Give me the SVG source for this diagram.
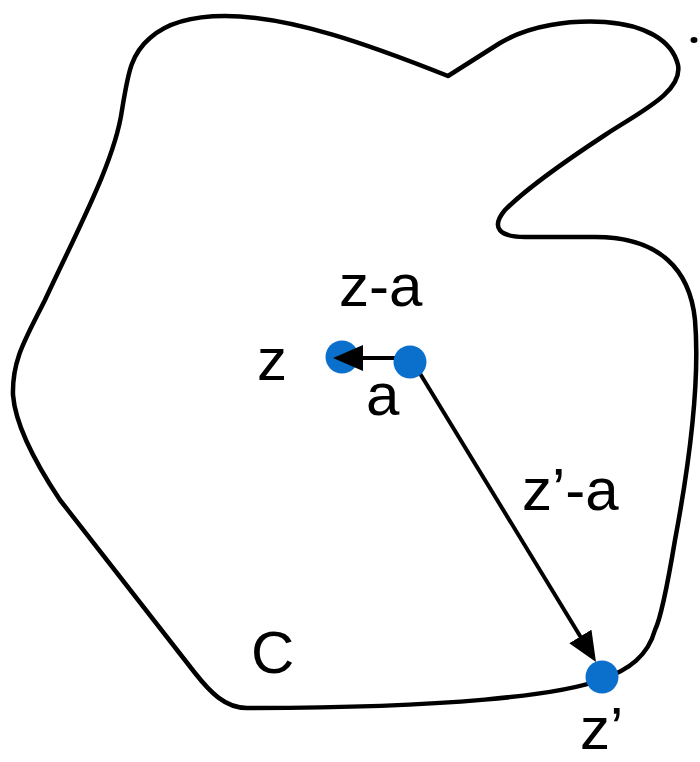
<svg xmlns="http://www.w3.org/2000/svg" width="700" height="762" viewBox="0 0 700 762">
  <style>
    .curve { fill: none; stroke: #000; stroke-width: 4.5; stroke-linejoin: round; }
    .conn { fill: none; stroke: #000; stroke-width: 4; }
    .pt { fill: #0b6fcc; }
    .lbl { font-family: "Liberation Sans", Arial, sans-serif; font-size: 60px; fill: #000; }
  </style>
  <defs>
    <marker id="head" viewBox="0 0 30 26" refX="22" refY="13" markerWidth="30" markerHeight="26" markerUnits="userSpaceOnUse" orient="auto">
      <path d="M0,0 L30,13 L0,26 z" fill="#000"/>
    </marker>
  </defs>

  <!-- closed contour C -->
  <g id="contour">
    <path class="curve" d="M 448 76 L 500 43 C 530 25 570 20 605 22 C 645 25 672 40 678 65 C 683 92 640 112 605 135 C 570 158 530 185 505 210 C 490 228 500 237 525 237 L 595 237 C 660 237 690 270 695 320 C 700 380 690 460 675 540 C 665 600 660 620 655 630 C 648 655 630 670 600 680 C 560 695 450 708 247 708 C 225 708 210 692 195 673 L 60 500 C 30 455 15 420 13 395 C 12 360 25 340 45 300 C 80 225 115 160 122 110 C 128 75 130 55 150 38 C 170 20 200 16 225 16 C 290 16 370 45 448 76 Z"/>
    <ellipse cx="694" cy="40" rx="3.5" ry="3" fill="#000"/>
    <text class="lbl" x="251" y="673">C</text>
  </g>

  <!-- point z -->
  <g id="node-z">
    <circle class="pt" cx="342" cy="357" r="16.5"/>
    <text class="lbl" x="257" y="380">z</text>
  </g>

  <!-- difference vectors -->
  <g id="connectors">
    <path class="conn" d="M 410 358 L 341 358" marker-end="url(#head)"/>
    <path class="conn" d="M 413 362 L 591.8 655.2" marker-end="url(#head)"/>
    <text class="lbl" x="339" y="306">z-a</text>
    <text class="lbl" x="522" y="510">z’-a</text>
  </g>

  <!-- point a -->
  <g id="node-a">
    <circle class="pt" cx="410" cy="362" r="16.5"/>
    <text class="lbl" x="366" y="415">a</text>
  </g>

  <!-- point z' on the contour -->
  <g id="node-zp">
    <circle class="pt" cx="602" cy="677" r="16.5"/>
    <text class="lbl" x="580" y="749">z’</text>
  </g>
</svg>
